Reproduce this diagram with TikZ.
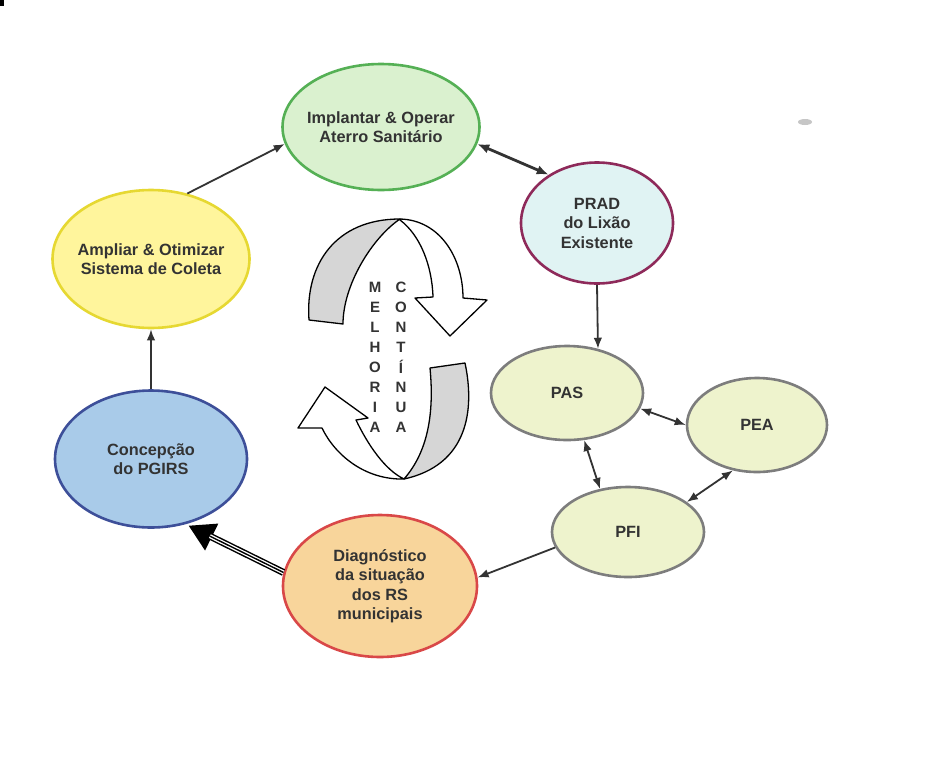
\documentclass[tikz,border=0pt]{standalone}
\usepackage{fontspec}
\setmainfont{Liberation Sans}
\usetikzlibrary{shapes.geometric,arrows.meta}

\definecolor{txt}{HTML}{333333}
\definecolor{implfill}{HTML}{DAF1CF}
\definecolor{impldraw}{HTML}{55B055}
\definecolor{pradfill}{HTML}{E0F3F3}
\definecolor{praddraw}{HTML}{8E2A5A}
\definecolor{amplfill}{HTML}{FFF59C}
\definecolor{ampldraw}{HTML}{E6D832}
\definecolor{concfill}{HTML}{A9CBE9}
\definecolor{concdraw}{HTML}{3D4F99}
\definecolor{diagfill}{HTML}{F8D59B}
\definecolor{diagdraw}{HTML}{D94848}
\definecolor{subfill}{HTML}{EEF3CD}
\definecolor{subdraw}{HTML}{7D7D7D}
\definecolor{ribbon}{HTML}{D6D6D6}

\begin{document}
\begin{tikzpicture}[x=1pt,y=-1pt,
  ell/.style={ellipse, line width=2.6pt, inner sep=0pt},
  lbl/.style={font=\bfseries\fontsize{16.3}{19.5}\selectfont, text=txt, align=center, inner sep=0pt},
  lett/.style={font=\bfseries\fontsize{15}{15}\selectfont, text=txt, inner sep=0pt},
  tipA/.tip={Latex[length=11pt,width=8.5pt]},
  conn/.style={draw=txt, line width=1.8pt, -tipA},
  twoway/.style={draw=txt, line width=1.8pt, tipA-tipA},
  band/.style={draw=black, line width=1.3pt, line join=round}]

\useasboundingbox (0,0) rectangle (931,758);
\fill[white] (0,0) rectangle (931,758);
\fill[black] (0,0) rectangle (4,6);
\fill[gray!45] (805,122) ellipse [x radius=7pt, y radius=3pt];

% --- the "melhoria continua" cycle arrows ---
% upper ribbon: back face, then front face with head
\filldraw[band, fill=ribbon] (309,320) .. controls (305,265) and (335,219) .. (400,219)
  .. controls (372,238) and (343,285) .. (343,324) -- cycle;
\filldraw[band, fill=white] (400,219) .. controls (440,220) and (463,258) .. (463,298)
  -- (487,300) -- (450,336) -- (415,298) -- (433,297)
  .. controls (432,265) and (420,235) .. (400,220) -- cycle;
% lower ribbon
\filldraw[band, fill=ribbon] (465,363) .. controls (475,410) and (468,465) .. (404,479)
  .. controls (425,455) and (435,420) .. (430,368) -- cycle;
\filldraw[band, fill=white] (404,479) .. controls (365,480) and (335,455) .. (322,428)
  -- (298,428) -- (325,387) -- (368,418) -- (356,420)
  .. controls (368,445) and (385,470) .. (404,479) -- cycle;

\foreach \c [count=\i from 0] in {M,E,L,H,O,R,I,A}
  \node[lett] (mel\i) at (375,287+20*\i) {\c};
\foreach \c [count=\i from 0] in {C,O,N,T,Í,N,U,A}
  \node[lett] (con\i) at (401,287+20*\i) {\c};

% --- stages ---
\node[ell, draw=impldraw, fill=implfill, minimum width=197pt, minimum height=126pt,
  label={[lbl]center:{Implantar \& Operar\\Aterro Sanitário}}] (impl) at (381,127) {};
\node[ell, draw=praddraw, fill=pradfill, minimum width=152pt, minimum height=121pt,
  label={[lbl]center:{PRAD\\do Lixão\\Existente}}] (prad) at (597,223) {};
\node[ell, draw=ampldraw, fill=amplfill, minimum width=197pt, minimum height=138pt,
  label={[lbl]center:{Ampliar \& Otimizar\\Sistema de Coleta}}] (ampl) at (151,259) {};
\node[ell, draw=concdraw, fill=concfill, minimum width=192pt, minimum height=137pt,
  label={[lbl]center:{Concepção\\do PGIRS}}] (conc) at (151,459) {};
\node[ell, draw=diagdraw, fill=diagfill, minimum width=194pt, minimum height=142pt,
  label={[lbl]center:{Diagnóstico\\da situação\\dos RS\\municipais}}] (diag) at (380,586) {};
\node[ell, draw=subdraw, fill=subfill, minimum width=152pt, minimum height=94pt,
  label={[lbl]center:{PAS}}] (pas) at (567,393) {};
\node[ell, draw=subdraw, fill=subfill, minimum width=140pt, minimum height=94pt,
  label={[lbl]center:{PEA}}] (pea) at (757,425) {};
\node[ell, draw=subdraw, fill=subfill, minimum width=152pt, minimum height=90pt,
  label={[lbl]center:{PFI}}] (pfi) at (628,532) {};

% --- connectors ---
\draw[conn] (ampl.61) -- (impl.190);
\draw[draw=txt, line width=2.8pt, {Latex[length=12pt,width=9.5pt]}-{Latex[length=12pt,width=9.5pt]}] (impl.-10) -- (prad.135);
\draw[conn] (prad.south) -- (pas.55);
\draw[twoway] (pas.-12) -- (pea.180);
\draw[twoway] (pas.-70) -- (pfi.123);
\draw[twoway] (pea.242) -- (pfi.27);
\draw[conn] (pfi.192) -- (diag.5);
\draw[conn] (conc.north) -- (ampl.south);

% striped block arrow from the diagnosis to the plan conception
\draw[black, line width=7pt, -{Triangle[length=26pt,width=28pt]}, shorten >=3pt] (diag.172) -- (conc.-62);
\draw[white, line width=4pt, shorten >=27pt] (diag.172) -- (conc.-62);
\draw[black, line width=1.4pt, shorten >=27pt] (diag.172) -- (conc.-62);
\end{tikzpicture}
\end{document}
